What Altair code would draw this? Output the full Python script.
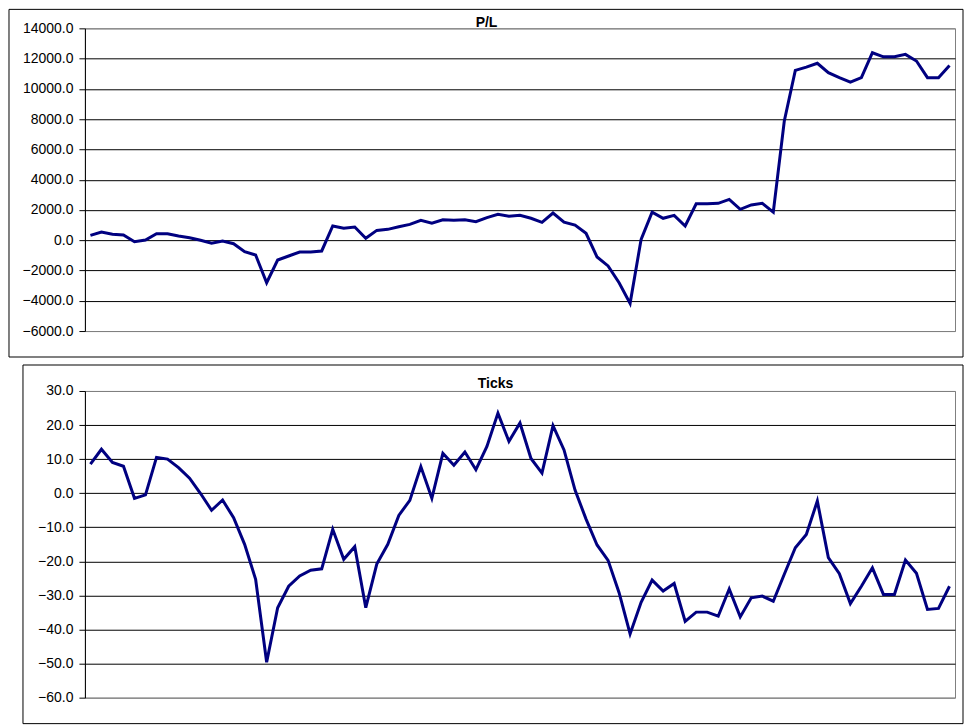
# P/L and Ticks per trade, Excel style


import pandas as pd
import altair as alt


# Values, one per trade
pl = [
    320, 540, 390, 340, -100, 10, 430, 430, 280, 165,
    0, -200, -50, -230, -760, -980, -2810, -1310, -1040, -780,
    -780, -710, 940, 790, 870, 130, 650, 720, 890, 1050,
    1315, 1120, 1355, 1315, 1355, 1220, 1490, 1710, 1580, 1645,
    1450, 1180, 1800, 1200, 1000, 460, -1110, -1700, -2810, -4170,
    60, 1860, 1450, 1645, 940, 2410, 2410, 2440, 2700, 2040,
    2330, 2440, 1860, 7880, 11220, 11440, 11690, 11070, 10740, 10450,
    10740, 12390, 12120, 12120, 12280, 11840, 10740, 10740, 11550,
]

ticks = [
    8.5, 12.9, 9.0, 7.9, -1.5, -0.5, 10.5, 10.0, 7.5, 4.4,
    -0.1, -5.0, -2.0, -7.2, -15.0, -25.3, -49.6, -33.6, -27.3, -24.3,
    -22.6, -22.2, -10.6, -19.4, -15.7, -33.6, -20.8, -15.0, -6.5, -2.1,
    7.8, -1.5, 11.7, 8.2, 12.1, 6.9, 13.7, 23.5, 15.2, 20.6,
    10.2, 5.9, 19.8, 12.7, 0.9, -7.6, -15.2, -19.7, -29.2, -41.3,
    -32.0, -25.5, -28.7, -26.5, -37.6, -34.9, -34.9, -36.1, -28.1, -36.3,
    -30.7, -30.2, -31.7, -23.8, -16.0, -12.1, -2.3, -18.9, -23.6, -32.4,
    -27.3, -21.9, -29.7, -29.7, -19.6, -23.5, -34.1, -33.8, -27.3,
]

# Axis tick values
pl_axis = [-6000, -4000, -2000, 0, 2000, 4000, 6000, 8000, 10000, 12000, 14000]
ticks_axis = [-60, -50, -40, -30, -20, -10, 0, 10, 20, 30]

df = pd.DataFrame({
    "trade": list(range(1, len(pl) + 1)),
    "pl": pl,
    "ticks": ticks,
})

FONT = "Liberation Sans"
PLOT_W = 871

x_enc = alt.X(
    "trade:Q",
    scale = alt.Scale(domain = [0.5, len(pl) + 0.5], nice = False, zero = False),
    axis = None,
)


def panel(field, title, values, height, frame, title_pos):
    lo, hi = values[0], values[-1]

    # outer border lines black, plot area border grey
    grid_color = {
        "condition": {
            "test": f"datum.value === {lo} || datum.value === {hi}",
            "value": "#808080",
        },
        "value": "#000000",
    }

    label_df = pd.DataFrame({"label": [title]})

    box = alt.Chart(label_df).mark_rect(
        filled = False, stroke = "black", strokeWidth = 1
    ).encode(
        x = alt.value(frame[0]),
        x2 = alt.value(frame[1]),
        y = alt.value(frame[2]),
        y2 = alt.value(frame[3]),
    )

    line = alt.Chart(df).mark_line(
        color = "#000080", strokeWidth = 3
    ).encode(
        x = x_enc,
        y = alt.Y(
            f"{field}:Q",
            scale = alt.Scale(domain = [lo, hi], nice = False, zero = False),
            axis = alt.Axis(
                values = values,
                format = ".1f",
                title = None,
                grid = True,
                gridColor = grid_color,
                gridWidth = 1,
            ),
        ),
    )

    head = alt.Chart(label_df).mark_text(
        font = FONT, fontSize = 14, fontWeight = "bold",
        color = "black", align = "center", baseline = "alphabetic",
    ).encode(
        text = "label:N",
        x = alt.value(title_pos[0]),
        y = alt.value(title_pos[1]),
    )

    return alt.layer(box, line, head).properties(width = PLOT_W, height = height)


top = panel("pl", "P/L", pl_axis, 303, (-76, 879, -19, 329), (402, -1))
bottom = panel("ticks", "Ticks", ticks_axis, 307, (-62, 879, -26, 333), (411, -3))

chart = (
    alt.vconcat(top, bottom, spacing = 60, bounds = "flush")
    .properties(padding = 0, background = "white")
    .configure_view(stroke = "#808080", strokeWidth = 1)
    .configure_axis(
        labelFont = FONT,
        labelFontSize = 14,
        labelColor = "black",
        labelPadding = 6,
        tickSize = 6,
        tickColor = "black",
        domainColor = "black",
        domainWidth = 1,
    )
)

chart.save("out.html", embed_options = {"renderer": "svg", "actions": False})
